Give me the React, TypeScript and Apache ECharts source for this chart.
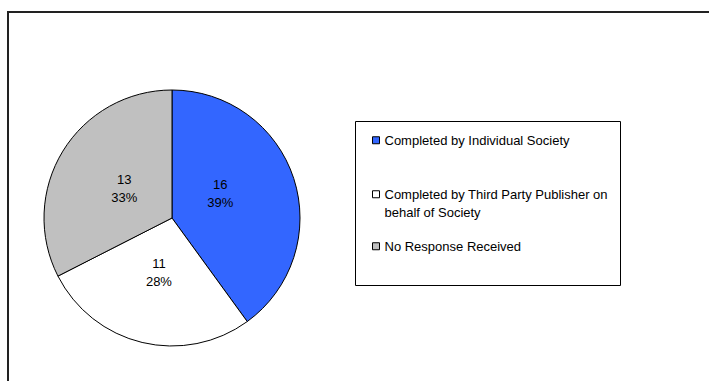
import React, { useEffect, useRef } from "react";
import * as echarts from "echarts";

const categories = [
  "Completed by Individual Society",
  "Completed by Third Party Publisher on behalf of Society",
  "No Response Received",
];
const values = [16, 11, 13];
const percentLabels = ["39%", "28%", "33%"];
const colors = ["#3366FF", "#FFFFFF", "#C0C0C0"];
const legendTexts = [
  "Completed by Individual Society",
  "\nCompleted by Third Party Publisher on\nbehalf of Society",
  "No Response Received",
];

const FONT = "'Liberation Sans', Arial, sans-serif";

export default function App() {
  const ref = useRef<HTMLDivElement>(null);
  useEffect(() => {
    if (!ref.current) return;
    const chart = echarts.init(ref.current, undefined, { renderer: "svg" });
    const data = categories.map((name, i) => ({
      name,
      value: values[i],
      itemStyle: { color: colors[i] },
    }));
    const legendTops = [126, 161.5, 232];
    const legends = categories.map((name, i) => ({
      show: true,
      data: [name],
      left: 367,
      top: legendTops[i],
      orient: "vertical",
      itemWidth: 7,
      itemHeight: 7,
      itemGap: 0,
      icon: "rect",
      selectedMode: false,
      itemStyle: { borderColor: "#000", borderWidth: 1 },
      formatter: () => legendTexts[i],
      textStyle: {
        fontFamily: FONT,
        fontSize: 13,
        color: "#000",
        lineHeight: 18.5,
      },
    }));
    chart.setOption({
      animation: false,
      backgroundColor: "#fff",
      legend: legends,
      graphic: [
        {
          type: "rect",
          shape: { x: 8, y: 12, width: 900, height: 600 },
          style: { fill: "none", stroke: "#222", lineWidth: 2 },
          silent: true,
        },
        {
          type: "rect",
          shape: { x: 355.5, y: 121.5, width: 265, height: 164 },
          style: { fill: "none", stroke: "#000", lineWidth: 1 },
          silent: true,
        },
      ],
      series: [
        {
          type: "pie",
          center: [172, 218],
          radius: 128,
          startAngle: 90,
          clockwise: true,
          label: { show: false },
          labelLine: { show: false },
          emphasis: { disabled: true },
          itemStyle: { borderColor: "#000", borderWidth: 1 },
          data,
        },
        {
          type: "pie",
          center: [172, 218],
          radius: 106,
          startAngle: 90,
          clockwise: true,
          silent: true,
          emphasis: { disabled: true },
          itemStyle: { color: "rgba(0,0,0,0)", borderWidth: 0 },
          labelLine: { show: false },
          label: {
            show: true,
            position: "inside",
            fontFamily: FONT,
            fontSize: 13,
            lineHeight: 18.5,
            color: "#000",
            formatter: (p: any) => `${values[p.dataIndex]}\n${percentLabels[p.dataIndex]}`,
          },
          data: categories.map((name, i) => ({
            name,
            value: values[i],
            label: i === 0 ? { offset: [-5, -7] } : undefined,
          })),
        },
      ],
    });
    return () => chart.dispose();
  }, []);
  return (
    <div
      ref={ref}
      style={{ position: "fixed", left: 0, top: 0, width: 709, height: 381 }}
    />
  );
}
